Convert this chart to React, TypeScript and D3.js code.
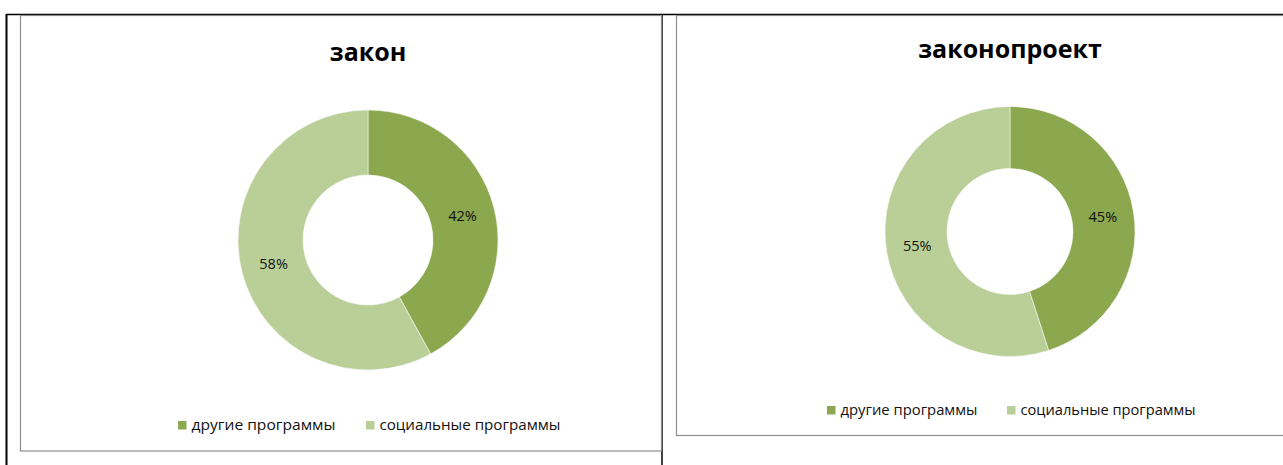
import React from "react";
import * as d3 from "d3";

// two donut charts: law vs. draft law
const categories = ["другие программы", "социальные программы"];
const zakonValues = [42, 58];
const proektValues = [45, 55];
const titles = ["закон", "законопроект"];
const colors = ["#8BA84F", "#BACF98"];

const FONT = "'Open Sans', 'DejaVu Sans', sans-serif";

const Donut = ({ cx, cy, outer, inner, values }) => {
  const pie = d3.pie().sort(null).value((d) => d);
  const arc = d3.arc().innerRadius(inner).outerRadius(outer);
  const labelArc = d3.arc().innerRadius((outer + inner) / 2).outerRadius((outer + inner) / 2);
  const arcs = pie(values);
  return (
    <g transform={`translate(${cx},${cy})`}>
      {arcs.map((a, i) => (
        <path key={i} d={arc(a)} fill={colors[i]} stroke="#fff" strokeWidth={0.5} />
      ))}
      {arcs.map((a, i) => {
        const [x, y] = labelArc.centroid(a);
        return (
          <text key={"l" + i} x={x} y={y} dy="0.35em" textAnchor="middle" fontSize={14.5} fontFamily={FONT} fill="#111">
            {a.data}%
          </text>
        );
      })}
    </g>
  );
};

// marker + label pairs, laid out left to right
const Legend = ({ x, y, offs, lens, size }) => (
  <g transform={`translate(${x},${y})`}>
    {categories.map((c, i) => (
      <g key={i} transform={`translate(${offs[i]},0)`}>
        <rect x={0} y={-9} width={8.5} height={8.5} fill={colors[i]} />
        <text x={13.5} y={0} fontSize={size} fontFamily={FONT} fill="#111" textLength={lens[i]} lengthAdjust="spacingAndGlyphs">{c}</text>
      </g>
    ))}
  </g>
);

export default function App() {
  const W = 1283, H = 465;
  return (
    <svg width={W} height={H} style={{ position: "absolute", left: 0, top: 0, background: "#fff" }}>
      {/* table cell borders */}
      <line x1={6} y1={14.5} x2={W} y2={14.5} stroke="#000" strokeWidth={1.5} />
      <line x1={6.5} y1={14} x2={6.5} y2={H} stroke="#000" strokeWidth={2} />
      <line x1={662} y1={14} x2={662} y2={H} stroke="#000" strokeWidth={1.5} />

      {/* left chart frame */}
      <rect x={20.5} y={15.5} width={641} height={435.5} fill="#fff" stroke="#8c8c8c" strokeWidth={1.2} />
      <text x={368} y={61} textAnchor="middle" fontSize={25} fontWeight="bold" fontFamily={FONT}>{titles[0]}</text>
      <Donut cx={368} cy={240} outer={130} inner={65} values={zakonValues} />
      <Legend x={178} y={430} offs={[0, 188]} lens={[144, 181]} size={14.5} />

      {/* right chart frame */}
      <rect x={676.5} y={15.5} width={W} height={420} fill="#fff" stroke="#8c8c8c" strokeWidth={1.2} />
      <text x={1010} y={58} textAnchor="middle" fontSize={25} fontWeight="bold" fontFamily={FONT}>{titles[1]}</text>
      <Donut cx={1010} cy={231.5} outer={125} inner={63} values={proektValues} />
      <Legend x={827} y={415} offs={[0, 180]} lens={[137, 175]} size={14} />
    </svg>
  );
}
